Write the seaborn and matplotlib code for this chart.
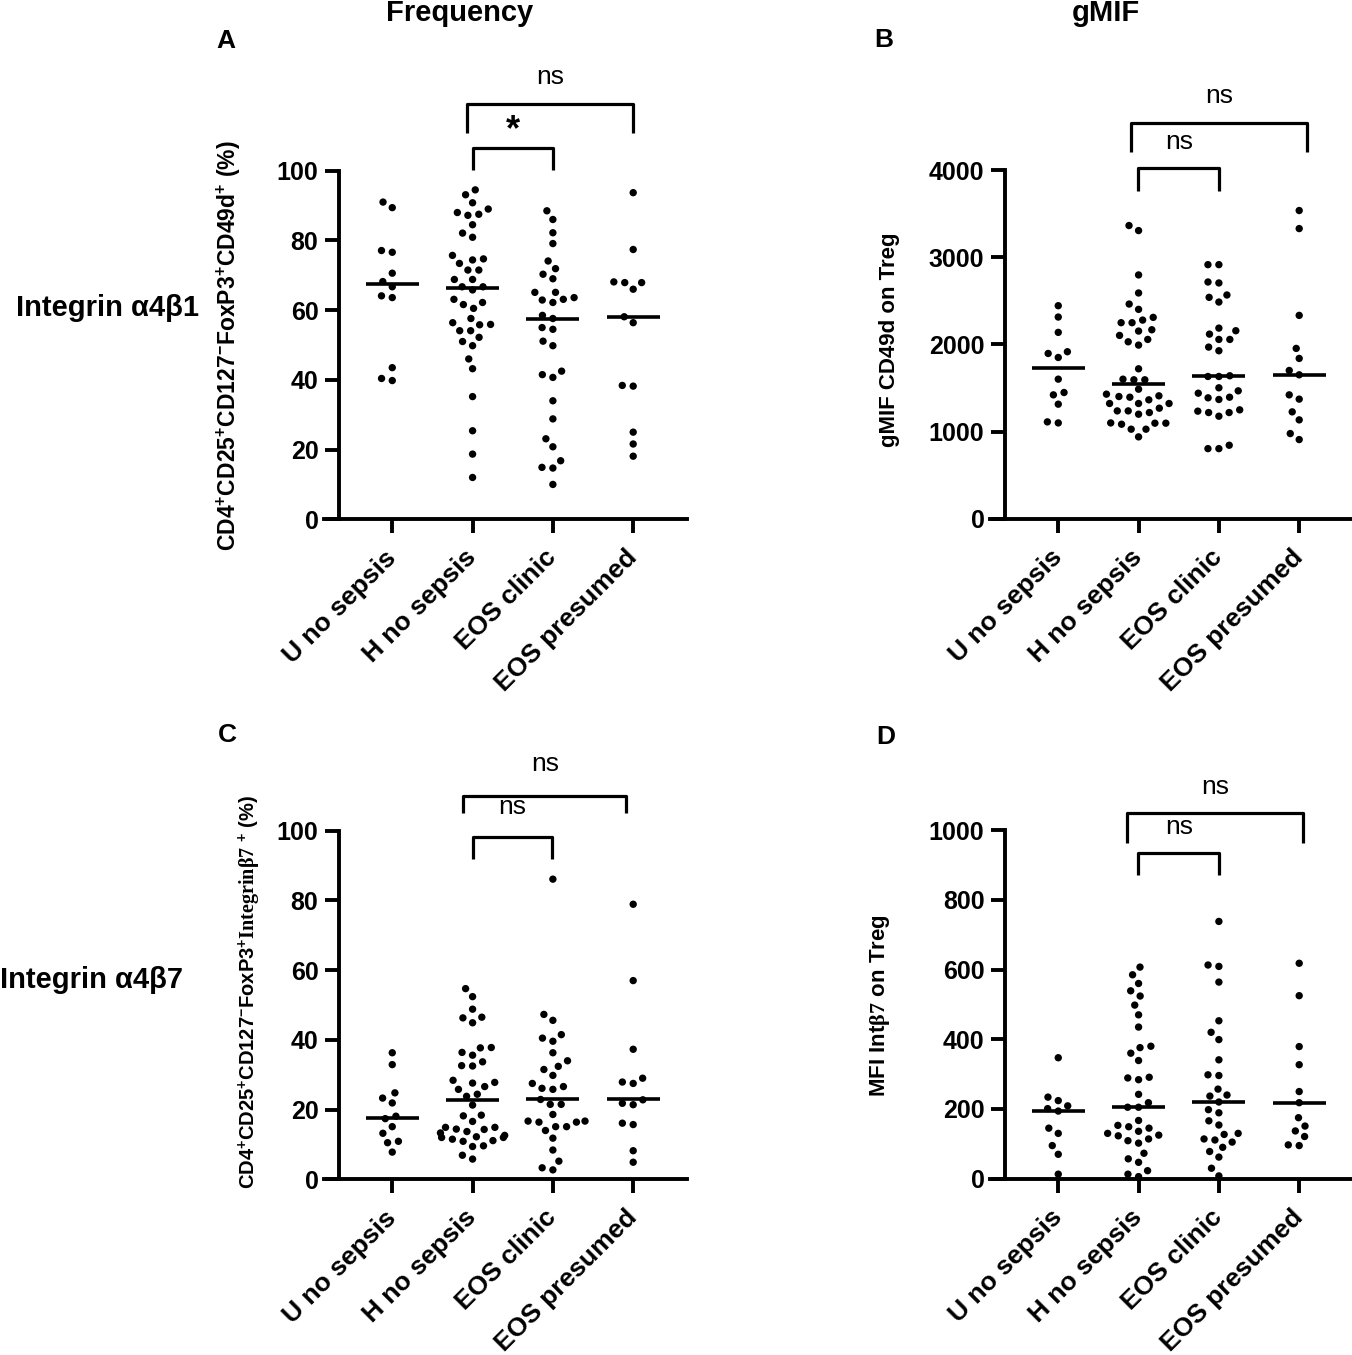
import numpy as np
import pandas as pd
import matplotlib
matplotlib.use("Agg")
import matplotlib.pyplot as plt
import seaborn as sns

# ---------------- data ----------------
groups = ["U no sepsis", "H no sepsis", "EOS clinic", "EOS presumed"]

A_U = [89.4, 91.0, 76.6, 77.1, 70.6, 68.2, 66.7, 64.1, 63.6, 43.5, 39.8, 40.4]
A_H = [94.5, 93.1, 90.8, 89.0, 88.0, 87.2, 87.5, 84.5, 82.1, 80.9, 75.7, 74.7, 74.4,
       73.4, 71.5, 71.5, 68.8, 68.8, 66.7, 65.8, 66.7, 63.1, 62.2, 61.6, 60.5, 57.6,
       56.4, 55.9, 55.8, 54.1, 54.1, 52.2, 51.0, 49.8, 46.0, 43.2, 35.2, 25.4, 18.7, 12.0]
A_C = [88.5, 86.0, 82.2, 79.1, 74.1, 71.9, 70.3, 69.0, 65.1, 65.1, 63.1, 63.6, 62.2,
       62.9, 58.5, 57.6, 55.0, 54.5, 51.1, 49.8, 42.5, 40.7, 41.5, 34.0, 28.8, 23.1,
       20.8, 16.8, 14.9, 14.7, 10.0]
A_P = [93.7, 77.4, 67.9, 68.1, 67.9, 66.0, 58.1, 56.4, 38.4, 38.2, 25.0, 21.6, 18.1]
A_med = [67.5, 66.4, 57.6, 58.1]

B_U = [2444, 2314, 2138, 1896, 1916, 1850, 1601, 1448, 1421, 1314, 1099, 1111]
B_H = [3306, 3364, 2797, 2590, 2463, 2402, 2310, 2279, 2249, 2249, 2153, 2168, 2103,
       2057, 2030, 1992, 1720, 1601, 1594, 1594, 1486, 1410, 1402, 1364, 1394, 1429,
       1322, 1322, 1322, 1237, 1218, 1237, 1268, 1199, 1099, 1096, 1096, 1084, 1027,
       1027, 939]
B_C = [2915, 2915, 2705, 2716, 2486, 2540, 2567, 2187, 2118, 2157, 2057, 2057, 1969,
       1927, 1632, 1640, 1632, 1467, 1502, 1394, 1440, 1368, 1387, 1249, 1218, 1218,
       1234, 1176, 804, 843, 804]
B_P = [3536, 3329, 2333, 1954, 1839, 1651, 1701, 1372, 1421, 1226, 1134, 977, 908]
B_med = [1724, 1548, 1640, 1651]

C_U = [36.3, 32.9, 24.8, 23.3, 21.9, 18.1, 17.4, 15.1, 13.2, 10.9, 10.5, 7.8]
C_H = [54.7, 52.4, 48.8, 46.5, 46.3, 44.9, 37.7, 37.8, 36.4, 35.6, 33.7, 32.5, 32.6,
       28.4, 27.6, 27.8, 26.6, 25.8, 24.4, 23.8, 21.3, 18.2, 18.4, 16.6, 14.9, 14.9,
       14.4, 14.3, 13.7, 13.3, 12.6, 12.0, 12.2, 11.5, 11.1, 12.0, 10.9, 9.6, 9.4, 5.8, 6.9]
C_C = [86.1, 47.3, 45.6, 41.5, 40.5, 39.6, 36.3, 34.0, 32.4, 31.5, 29.8, 27.5, 26.6,
       25.8, 26.1, 22.9, 21.5, 21.5, 18.6, 16.7, 16.4, 16.4, 16.7, 15.1, 15.1, 14.0,
       11.8, 8.4, 5.2, 3.3, 2.7]
C_P = [78.9, 57.0, 37.3, 27.9, 27.5, 29.0, 21.4, 22.8, 21.8, 15.7, 16.1, 8.2, 4.9]
C_med = [17.7, 22.7, 22.9, 22.9]

D_U = [347, 234, 224, 201, 194, 209, 145, 130, 95, 70, 13]
D_H = [607, 585, 560, 524, 498, 539, 470, 435, 376, 380, 360, 339, 284, 289, 291, 242,
       218, 205, 205, 153, 130, 109, 136, 114, 149, 125, 102, 167, 145, 123, 73, 47,
       57, 23, 6, 13]
D_C = [738, 609, 613, 564, 453, 420, 399, 341, 298, 296, 257, 240, 237, 220, 198, 189,
       154, 166, 127, 130, 111, 114, 90, 105, 78, 62, 30, 8]
D_P = [618, 525, 379, 327, 250, 218, 175, 151, 137, 121, 97, 95]
D_med = [195, 206, 221, 218]

A_ticks = [0, 20, 40, 60, 80, 100]
B_ticks = [0, 1000, 2000, 3000, 4000]
C_ticks = [0, 20, 40, 60, 80, 100]
D_ticks = [0, 200, 400, 600, 800, 1000]

# ---------------- style ----------------
sns.set_style("ticks")
plt.rcParams["font.family"] = ["Liberation Sans", "DejaVu Sans"]
plt.rcParams["font.weight"] = "bold"
for k in ("text.color", "axes.labelcolor", "xtick.color", "ytick.color",
          "axes.edgecolor"):
    plt.rcParams[k] = "black"
plt.rcParams["mathtext.fontset"] = "custom"
plt.rcParams["mathtext.bf"] = "Liberation Sans:bold"
plt.rcParams["mathtext.rm"] = "Liberation Serif:bold"
plt.rcParams["mathtext.sf"] = "Liberation Serif"
plt.rcParams["mathtext.it"] = "Liberation Sans:italic"
plt.rcParams["mathtext.default"] = "bf"

W, H = 1352, 1355
fig = plt.figure(figsize=(W / 100, H / 100), dpi=100)
fig.patch.set_facecolor("white")

LW = 2.8


def make_panel(rect, series, meds, ticks, ylabel, lab_xy, brackets):
    ax = fig.add_axes(rect)
    vals = np.concatenate([np.asarray(s, float) for s in series])
    grp = np.repeat(groups, [len(s) for s in series])
    df = pd.DataFrame({"group": grp, "value": vals})
    sns.swarmplot(data=df, x="group", y="value", order=groups, color="black",
                  size=5.3, linewidth=2.2, edgecolor="none", ax=ax,
                  clip_on=False, zorder=3)
    x = np.arange(len(groups))
    ax.hlines(meds, x - 0.33, x + 0.33, color="black", lw=2.6, zorder=4)

    ax.set_xlim(-0.85, 3.67)
    ax.set_ylim(ticks[0], ticks[-1])
    ax.set_yticks(ticks)
    ax.set_yticklabels([str(t) for t in ticks])
    ax.set_xticks(x)
    ax.set_xticklabels(groups, rotation=45, ha="right", va="center",
                       rotation_mode="anchor")
    ax.set_xlabel("")
    for s in ("top", "right"):
        ax.spines[s].set_visible(False)
    ax.spines["left"].set_position(("data", -0.66))
    for s in ("left", "bottom"):
        ax.spines[s].set_linewidth(LW)
        ax.spines[s].set_color("black")
    ax.tick_params(axis="both", width=LW, length=10, direction="out", colors="black")
    ax.tick_params(axis="y", labelsize=18, pad=5)
    ax.tick_params(axis="x", labelsize=19, pad=15)
    for t in ax.get_xticklabels() + ax.get_yticklabels():
        t.set_fontweight("bold")

    ax.set_ylabel(ylabel, fontsize=lab_xy[2], fontweight="bold", color="black")
    ax.yaxis.set_label_coords(lab_xy[0], lab_xy[1])
    ax.yaxis.label.set_va("center")

    for (x1, x2, ytop, ybot, tx, ty, txt, fs, fw) in brackets:
        ax.plot([x1, x1, x2, x2], [ybot, ytop, ytop, ybot], color="black",
                lw=2.3, clip_on=False, solid_capstyle="butt")
        ax.text(tx, ty, txt, ha="center", va="center", fontsize=fs,
                fontweight=fw, clip_on=False, color="black")
    return ax


def rect(left_px, bottom_px):
    return [left_px / W, (H - bottom_px) / H, 363 / W, 348.6 / H]


ylab_A = "CD4$^{+}$CD25$^{+}$CD127$^{-}$FoxP3$^{+}$CD49d$^{+}$ (%)"
ylab_B = "gMIF CD49d on Treg"
ylab_C = "CD4$^{+}$CD25$^{+}$CD127$^{-}$FoxP3$^{+}\\mathrm{Integrinβ7}$ $^{+}$ (%)"
ylab_D = "MFI Int$\\mathsf{β7}$ on Treg"

make_panel(rect(324, 519.3), [A_U, A_H, A_C, A_P], A_med, A_ticks, ylab_A,
           (-0.262, 0.497, 16.5),
           [(0.93, 3.0, 119.2, 110.8, 1.97, 126.9, "ns", 19, "normal"),
            (1.0, 2.0, 106.5, 100.2, 1.5, 111.5, "*", 26, "bold")])
make_panel(rect(990, 518.7), [B_U, B_H, B_C, B_P], B_med, B_ticks, ylab_B,
           (-0.278, 0.513, 16),
           [(0.9, 3.1, 4536, 4203, 2.0, 4847, "ns", 19, "normal"),
            (0.99, 2.0, 4020, 3764, 1.5, 4318, "ns", 19, "normal")])
make_panel(rect(324, 1179.3), [C_U, C_H, C_C, C_P], C_med, C_ticks, ylab_C,
           (-0.204, 0.537, 14.5),
           [(0.88, 2.91, 110.0, 105.1, 1.905, 119.0, "ns", 19, "normal"),
            (1.0, 1.99, 98.2, 91.9, 1.49, 106.9, "ns", 19, "normal")])
make_panel(rect(990, 1178.7), [D_U, D_H, D_C, D_P], D_med, D_ticks, ylab_D,
           (-0.303, 0.495, 16),
           [(0.85, 3.05, 1048, 962, 1.95, 1123, "ns", 19, "normal"),
            (0.99, 2.0, 933, 870, 1.5, 1008, "ns", 19, "normal")])

# ---------------- figure texts ----------------
def ftext(px, py, s, fs, **kw):
    fig.text(px / W, 1 - py / H, s, ha="center", va="center", fontsize=fs,
             fontweight="bold", color="black", **kw)

ftext(460, 13, "Frequency", 21)
ftext(1106, 13, "gMIF", 21)
ftext(226, 41, "A", 19)
ftext(884, 40, "B", 19)
ftext(227, 735, "C", 19)
ftext(886, 737, "D", 19)
ftext(107, 308, "Integrin α4β1", 21)
ftext(92, 980, "Integrin α4β7", 21)

fig.savefig("out.png", dpi=100, facecolor="white")
